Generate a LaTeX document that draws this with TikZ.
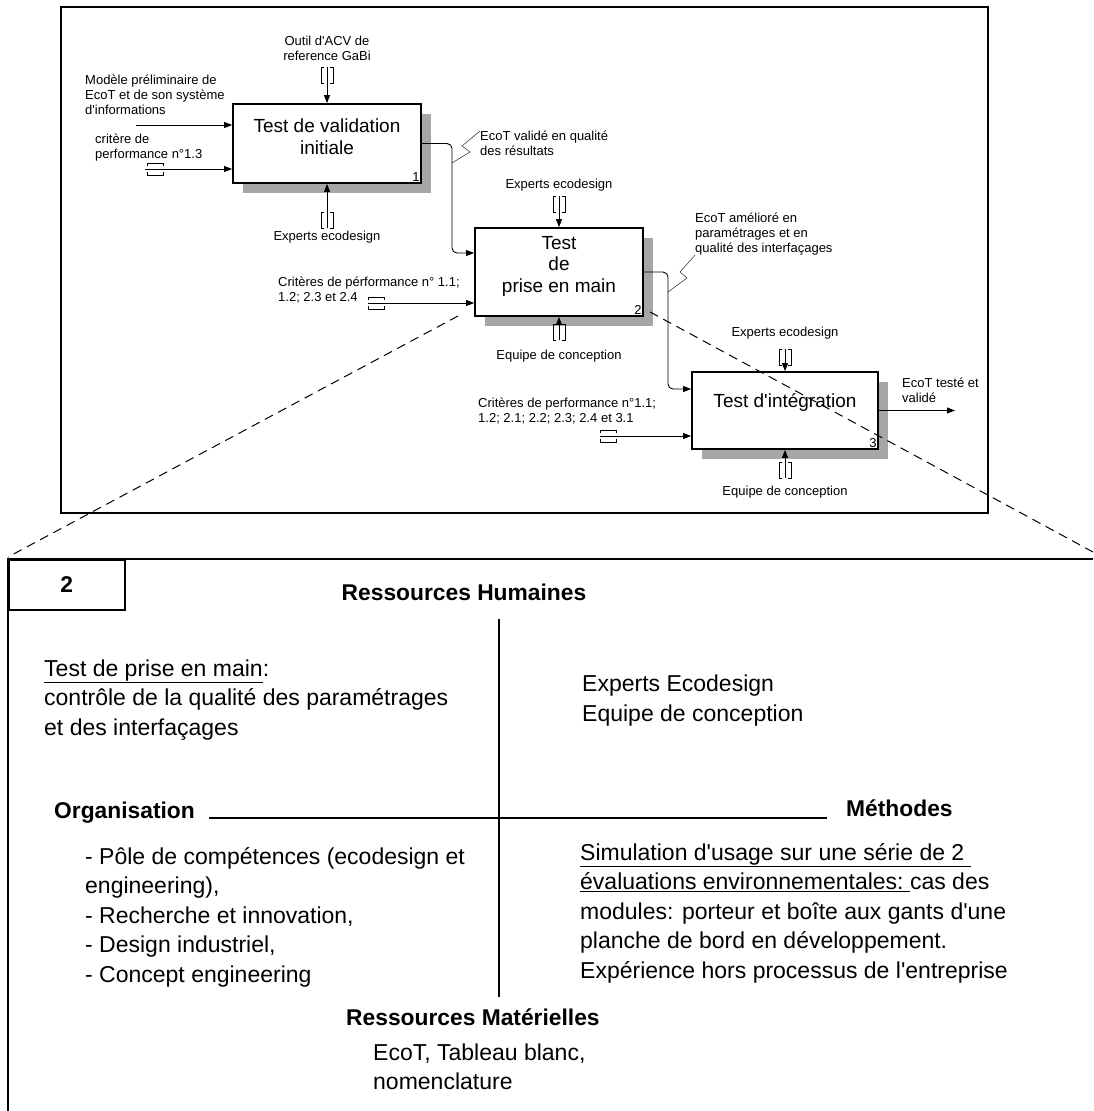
\documentclass[tikz,border=0pt]{standalone}
\usepackage{fontspec}
\setmainfont{Liberation Sans}
\usetikzlibrary{arrows.meta, positioning, calc, shadows}

\newcommand{\apo}{\textquotesingle}

\tikzset{
  vtun/.pic={\draw (-3,-8) -- (-6,-8) -- (-6,8) -- (-3,8) (3,-8) -- (6,-8) -- (6,8) -- (3,8);},
  htun/.pic={\draw (-8,-3) -- (-8,-6) -- (8,-6) -- (8,-3) (-8,3) -- (-8,6) -- (8,6) -- (8,3);}
}

\begin{document}
\begin{tikzpicture}[x=1pt, y=-1pt,
    activite/.style={draw, line width=1.8pt, fill=white, inner sep=0pt,
      general shadow={shadow xshift=10pt, shadow yshift=-10pt, fill=black!35}},
    titre/.style={font=\fontsize{19}{21.5}\selectfont, align=center, inner sep=0pt},
    numero/.style={font=\fontsize{13}{14}\selectfont, anchor=south east, inner sep=2pt},
    etiq/.style={font=\fontsize{13}{14.8}\selectfont, align=left, inner sep=0pt},
    fleche/.style={-{Triangle[length=8pt,width=6pt]}, line width=0.9pt},
    zoomligne/.style={dash pattern=on 9pt off 6pt, line width=1pt},
    texte/.style={font=\fontsize{23}{29.5}\selectfont, align=left, inner sep=0pt, anchor=west},
    entete/.style={font=\bfseries\fontsize{22.8}{27}\selectfont, inner sep=0pt}
  ]
  \useasboundingbox (0,0) rectangle (1093,1111);

  % diagramme IDEF0
  \draw[line width=1.5pt] (61,7) rectangle (988,513);

  \node[activite, minimum width=188pt, minimum height=79pt] (b1) at (327,143.5) {};
  \node[titre] (t1) at ([yshift=7pt]b1.center) {Test de validation\\initiale};
  \node[numero] (n1) at (b1.south east) {1};

  \node[activite, minimum width=168pt, minimum height=88pt] (b2) at (559,272) {};
  \node[titre] (t2) at ([yshift=6pt]b2.center) {Test\\de\\prise en main};
  \node[numero] (n2) at (b2.south east) {2};

  \node[activite, minimum width=186pt, minimum height=77pt] (b3) at (785,410.5) {};
  \node[titre] (t3) at ([yshift=8pt]b3.center) {Test d\apo intégration};
  \node[numero] (n3) at (b3.south east) {3};

  % activite 1
  \node[etiq, align=center] (outil) at (327,48) {Outil d\apo ACV de\\reference GaBi};
  \coordinate (e1t) at (327,67);
  \pic at (327,75) {vtun};
  \draw[fleche] (e1t) -- (b1.north);

  \node[etiq, anchor=west] (modele) at (85,94.5) {Modèle préliminaire de\\EcoT et de son système\\d\apo informations};
  \coordinate (e1a) at (136,125);
  \draw[fleche] (e1a) -- (e1a -| b1.west);

  \node[etiq, anchor=west] (crit1) at (95,147.5) {critère de\\performance n°1.3};
  \coordinate (e1b) at (145,169);
  \pic at (155,169) {htun};
  \draw[fleche] (e1b) -- (e1b -| b1.west);

  \coordinate (m1) at (327,228);
  \pic at (327,220) {vtun};
  \draw[fleche] (m1) -- (b1.south);
  \node[etiq] (exp1) at (327,237) {Experts ecodesign};

  \coordinate (j1) at (452,253);
  \draw[fleche, rounded corners=5pt] (b1.east) -| (j1) -- (j1 -| b2.west);
  \node[etiq, anchor=west] (res1) at (480,143.5) {EcoT validé en qualité\\des résultats};
  \coordinate (s1) at (452,163);
  \draw (s1) -- ++(18,-11) -- ++(-8,-6) -- (res1.north west);

  % activite 2
  \node[etiq] (exp2) at (559,185) {Experts ecodesign};
  \coordinate (m2a) at (559,196);
  \pic at (559,204) {vtun};
  \draw[fleche] (m2a) -- (b2.north);

  \coordinate (m2b) at (559,340);
  \pic at (559,332) {vtun};
  \draw[fleche] (m2b) -- (b2.south);
  \node[etiq] (equ2) at (559,356) {Equipe de conception};

  \node[etiq, anchor=west] (crit2) at (278,290) {Critères de pérformance n° 1.1;\\1.2; 2.3 et 2.4};
  \coordinate (e2) at (368,303);
  \pic at (376,303) {htun};
  \draw[fleche] (e2) -- (e2 -| b2.west);

  \coordinate (j2) at (668,389);
  \draw[fleche, rounded corners=5pt] (b2.east) -| (j2) -- (j2 -| b3.west);
  \node[etiq, anchor=west] (res2) at (695,234) {EcoT amélioré en\\paramétrages et en\\qualité des interfaçages};
  \coordinate (s2) at (668,292);
  \draw (s2) -- ++(19,-14) -- ++(-7,-6) -- (res2.south west);

  % activite 3
  \node[etiq] (exp3) at (785,333) {Experts ecodesign};
  \coordinate (m3a) at (785,349);
  \pic at (785,357) {vtun};
  \draw[fleche] (m3a) -- (b3.north);

  \coordinate (m3b) at (785,478);
  \pic at (785,470) {vtun};
  \draw[fleche] (m3b) -- (b3.south);
  \node[etiq] (equ3) at (785,492) {Equipe de conception};

  \node[etiq, anchor=west] (crit3) at (478,411) {Critères de performance n°1.1;\\1.2; 2.1; 2.2; 2.3; 2.4 et 3.1};
  \coordinate (e3) at (600,436);
  \pic at (608,436) {htun};
  \draw[fleche] (e3) -- (e3 -| b3.west);

  \coordinate (sortie) at (955,412);
  \draw[fleche] (b3.east) -- (b3.east -| sortie);
  \node[etiq, anchor=west] (res3) at (902,390) {EcoT testé et\\validé};

  % zoom sur l'activite 2
  \coordinate (zg) at (458,316);
  \coordinate (zd) at (650,312);
  \coordinate (cg) at (8,557);
  \coordinate (cd) at (1093,552);
  \draw[zoomligne] (zg) -- (cg);
  \draw[zoomligne] (zd) -- (cd);

  % fiche de l'activite 2
  \draw[line width=1.5pt] (1093,559) -- (8,559) -- (8,1111);
  \node[draw, line width=1.5pt, minimum width=116pt, minimum height=50pt, anchor=north west,
        font=\bfseries\fontsize{22.8}{27}\selectfont] (num) at (8,559) {2};

  \node[entete] (rh) at (464,592) {Ressources Humaines};
  \coordinate (vh) at (499,619);
  \coordinate (vb) at (499,997);
  \draw[line width=1.2pt] (vh) -- (vb);

  \node[entete, anchor=west] (org) at (54,813) {Organisation};
  \node[entete, anchor=west] (meth) at (846,808) {Méthodes};
  \coordinate (hg) at (209,818);
  \coordinate (hd) at (827,818);
  \draw[line width=1.2pt] (hg) -- (hd);

  \node[texte] (tpm) at (44,700) {\underline{Test de prise en main}:\\contrôle de la qualité des paramétrages\\et des interfaçages};
  \node[texte] (rhum) at (582,700.5) {Experts Ecodesign\\Equipe de conception};
  \node[texte] (orga) at (85,917) {- Pôle de compétences (ecodesign et\\engineering),\\- Recherche et innovation,\\- Design industriel,\\- Concept engineering};
  \node[texte] (simu) at (580,913) {\underline{Simulation d\apo usage sur une série de 2\ }\\\underline{évaluations environnementales:\ }cas des\\modules: porteur et boîte aux gants d\apo une\\planche de bord en développement.\\Expérience hors processus de l\apo entreprise};

  \node[entete, anchor=west] (rm) at (346,1017) {Ressources Matérielles};
  \node[texte] (rmat) at (373,1067) {EcoT, Tableau blanc,\\nomenclature};
\end{tikzpicture}
\end{document}
